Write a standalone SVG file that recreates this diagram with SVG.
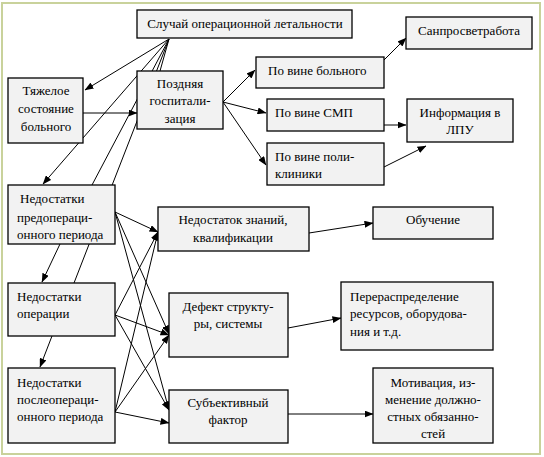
<svg xmlns="http://www.w3.org/2000/svg" width="544" height="457" viewBox="0 0 544 457">
<style>
.box{fill:#f2f2f2;stroke:#000;stroke-width:1.3}
text{font-family:'Liberation Serif','DejaVu Serif',serif;font-size:13px;fill:#000}
.c{text-anchor:middle}
.ln{stroke:#000;stroke-width:1;fill:none}
.ar{stroke:#000;stroke-width:1;fill:none;marker-end:url(#ah)}
</style>
<defs>
<marker id="ah" markerUnits="userSpaceOnUse" markerWidth="9" markerHeight="7" refX="8.5" refY="3.5" orient="auto">
<path d="M0,0 L9,3.5 L0,7 z" fill="#000"/>
</marker>
</defs>
<rect x="2" y="3" width="538" height="451" fill="#fff" stroke="#c9d29b" stroke-width="2"/>
<g id="connectors">
<line class="ar" x1="169" y1="39" x2="85" y2="90"/>
<line class="ar" x1="169" y1="39" x2="43" y2="184"/>
<line class="ln" x1="169" y1="39" x2="92" y2="185"/>
<line class="ln" x1="169" y1="39" x2="74" y2="283"/>
<line class="ln" x1="169" y1="39" x2="160" y2="71"/>
<line class="ar" x1="83" y1="113" x2="137" y2="113"/>
<line class="ar" x1="223" y1="102" x2="255" y2="70"/>
<line class="ar" x1="223" y1="102" x2="266" y2="113"/>
<line class="ar" x1="223" y1="102" x2="266" y2="165"/>
<line class="ar" x1="384" y1="60" x2="406" y2="38"/>
<line class="ar" x1="384" y1="125" x2="406" y2="125"/>
<line class="ar" x1="384" y1="167" x2="426" y2="146"/>
<line class="ar" x1="60" y1="244" x2="42" y2="282"/>
<line class="ar" x1="52" y1="336" x2="40" y2="367"/>
<line class="ar" x1="115" y1="212" x2="158" y2="232"/>
<line class="ar" x1="115" y1="212" x2="169" y2="334"/>
<line class="ar" x1="115" y1="212" x2="169" y2="410"/>
<line class="ar" x1="115" y1="315" x2="158" y2="232"/>
<line class="ar" x1="115" y1="315" x2="169" y2="335"/>
<line class="ar" x1="115" y1="315" x2="169" y2="410"/>
<line class="ar" x1="115" y1="412" x2="158" y2="232"/>
<line class="ar" x1="115" y1="412" x2="169" y2="335"/>
<line class="ar" x1="115" y1="412" x2="169" y2="423"/>
<line class="ar" x1="309" y1="233" x2="373" y2="223"/>
<line class="ar" x1="288" y1="328" x2="341" y2="318"/>
<line class="ar" x1="288" y1="414" x2="373" y2="414"/>
</g>
<g id="n-top"><rect class="box" x="137" y="10" width="215" height="28"/><text class="c" x="245" y="28">Случай операционной летальности</text></g>
<g id="n-tyazh"><rect class="box" x="8" y="78" width="75" height="65"/><text class="c" x="46" y="95">Тяжелое</text><text class="c" x="46" y="113">состояние</text><text class="c" x="46" y="131">больного</text></g>
<g id="n-pozd"><rect class="box" x="137" y="71" width="86" height="58"/><text class="c" x="180" y="88">Поздняя</text><text class="c" x="180" y="105">госпитали-</text><text class="c" x="180" y="123">зация</text></g>
<g id="n-bol"><rect class="box" x="256" y="57" width="128" height="31"/><text x="268" y="75">По вине больного</text></g>
<g id="n-san"><rect class="box" x="406" y="17" width="126" height="32"/><text x="418" y="35">Санпросветработа</text></g>
<g id="n-smp"><rect class="box" x="267" y="99" width="117" height="32"/><text x="275" y="117">По вине СМП</text></g>
<g id="n-info"><rect class="box" x="407" y="99" width="106" height="43"/><text class="c" x="460" y="117">Информация в</text><text class="c" x="460" y="134">ЛПУ</text></g>
<g id="n-poli"><rect class="box" x="267" y="143" width="117" height="42"/><text x="275" y="161">По вине поли-</text><text x="275" y="178">клиники</text></g>
<g id="n-predop"><rect class="box" x="8" y="185" width="107" height="59"/><text x="20" y="203">Недостатки</text><text x="17" y="222">предопераци-</text><text x="17" y="239">онного периода</text></g>
<g id="n-oper"><rect class="box" x="8" y="283" width="107" height="53"/><text x="17" y="301">Недостатки</text><text x="17" y="318">операции</text></g>
<g id="n-posle"><rect class="box" x="8" y="368" width="107" height="75"/><text x="17" y="387">Недостатки</text><text x="17" y="404">послеопераци-</text><text x="17" y="421">онного периода</text></g>
<g id="n-znan"><rect class="box" x="158" y="207" width="151" height="44"/><text class="c" x="233" y="224">Недостаток знаний,</text><text class="c" x="233" y="242">квалификации</text></g>
<g id="n-def"><rect class="box" x="169" y="293" width="119" height="64"/><text class="c" x="228" y="311">Дефект структу-</text><text class="c" x="228" y="328">ры, системы</text></g>
<g id="n-subj"><rect class="box" x="169" y="390" width="119" height="53"/><text class="c" x="228" y="407">Субъективный</text><text class="c" x="228" y="424">фактор</text></g>
<g id="n-obuch"><rect class="box" x="373" y="207" width="120" height="32"/><text class="c" x="433" y="224">Обучение</text></g>
<g id="n-perer"><rect class="box" x="341" y="282" width="152" height="68"/><text x="350" y="301">Перераспределение</text><text x="350" y="318">ресурсов, оборудова-</text><text x="350" y="336">ния и т.д.</text></g>
<g id="n-motiv"><rect class="box" x="373" y="368" width="120" height="75"/><text class="c" x="433" y="387">Мотивация, из-</text><text class="c" x="433" y="404">менение должно-</text><text class="c" x="433" y="421">стных обязанно-</text><text class="c" x="433" y="438">стей</text></g>
</svg>
